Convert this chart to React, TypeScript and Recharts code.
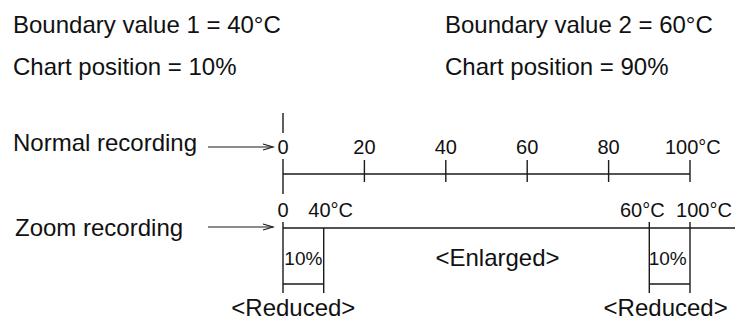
import React from 'react';
import { ComposedChart, XAxis, YAxis, Line, ReferenceLine, ReferenceDot } from 'recharts';

// ---- data ----
const normalTicks = [0, 20, 40, 60, 80, 100]; // °C on normal recording scale
const boundaryValues = [40, 60]; // °C
const chartPositions = [10, 90]; // % of chart width
const zoomTemps = [0, 40, 60, 100]; // °C shown on zoom recording
const zoomPositions = [0, 10, 90, 100]; // % where those temps land
const rowLabels = ['Normal recording', 'Zoom recording'];
const zoneLabels = ['<Reduced>', '<Enlarged>', '<Reduced>'];

// ---- layout (pixels / styling) ----
const W = 735;
const H = 321;
const FONT = '"Liberation Sans", Arial, Helvetica, sans-serif';
const INK = '#111';
const LINE = '#1a1a1a';
const SW = 1.4;

const Y = {
  normalLine: 174,
  normalTick: [160, 182],
  zeroTop: [113, 133],
  zeroBottom: [159, 194],
  normalLabel: 154,
  zoomLine: 228,
  zoomVertHigh: 222,
  zoomVertLow: 293,
  zoomBottom: 284,
  zoomLabel: 217,
  pctLabel: 265,
  enlarged: 266,
  reduced: 316,
};
const ZOOM_LINE_EXTENT = 111.1; // reaches the right edge of the picture

const chartData = normalTicks.map((t) => ({ t, y: Y.normalLine }));

const Txt = (text: string, size: number, anchor: string, dx = 0) => (p: any) => (
  <text
    x={p.cx + dx}
    y={p.cy}
    fontSize={size}
    fontFamily={FONT}
    fill={INK}
    textAnchor={anchor}
  >
    {text}
  </text>
);

const seg = (x1: number, y1: number, x2: number, y2: number, key: string, axis = 't') => (
  <ReferenceLine
    key={key}
    xAxisId={axis}
    yAxisId="y"
    segment={[{ x: x1, y: y1 }, { x: x2, y: y2 }]}
    stroke={LINE}
    strokeWidth={SW}
    ifOverflow="visible"
  />
);

const Arrow = ({ x1, x2, y }: { x1: number; x2: number; y: number }) => (
  <g stroke={LINE} strokeWidth={1.2} fill="none">
    <line x1={x1} y1={y} x2={x2} y2={y} />
    <polyline points={`${x2 - 10},${y - 3} ${x2},${y} ${x2 - 10},${y + 3}`} />
  </g>
);

export default function App() {
  const zoomLabelDx = [0, 7, -7, 14];
  return (
    <div style={{ position: 'absolute', left: 0, top: 0, width: W, height: H, background: '#fff' }}>
      <ComposedChart
        width={W}
        height={H}
        data={chartData}
        margin={{ top: 0, right: 45, bottom: 0, left: 283 }}
      >
        <XAxis xAxisId="t" dataKey="t" type="number" domain={[0, 100]} allowDataOverflow hide />
        <XAxis xAxisId="p" dataKey="t" type="number" domain={[0, 100]} allowDataOverflow hide />
        <YAxis yAxisId="y" type="number" domain={[0, H]} allowDataOverflow reversed hide />

        {/* normal recording baseline through the scale points */}
        <Line
          xAxisId="t"
          yAxisId="y"
          dataKey="y"
          stroke={LINE}
          strokeWidth={SW}
          dot={false}
          isAnimationActive={false}
        />

        {/* header text */}
        <text x={13} y={33} fontSize={24} fontFamily={FONT} fill={INK}>
          {`Boundary value 1 = ${boundaryValues[0]}°C`}
        </text>
        <text x={445} y={33} fontSize={24} fontFamily={FONT} fill={INK}>
          {`Boundary value 2 = ${boundaryValues[1]}°C`}
        </text>
        <text x={13} y={75} fontSize={24} fontFamily={FONT} fill={INK}>
          {`Chart position = ${chartPositions[0]}%`}
        </text>
        <text x={445} y={75} fontSize={24} fontFamily={FONT} fill={INK}>
          {`Chart position = ${chartPositions[1]}%`}
        </text>

        {/* row labels + arrows */}
        <text x={13} y={151} fontSize={24} fontFamily={FONT} fill={INK}>
          {rowLabels[0]}
        </text>
        <Arrow x1={208} x2={273} y={147} />
        <text x={15} y={236} fontSize={24} fontFamily={FONT} fill={INK}>
          {rowLabels[1]}
        </text>
        <Arrow x1={208} x2={273} y={227} />

        {/* normal recording scale */}
        {seg(normalTicks[0], Y.zeroTop[0], normalTicks[0], Y.zeroTop[1], 'z0t')}
        {seg(normalTicks[0], Y.zeroBottom[0], normalTicks[0], Y.zeroBottom[1], 'z0b')}
        {normalTicks.slice(1).map((t) => seg(t, Y.normalTick[0], t, Y.normalTick[1], `nt${t}`))}
        {normalTicks.map((t, i) => (
          <ReferenceDot
            key={`nlab${t}`}
            xAxisId="t"
            yAxisId="y"
            x={t}
            y={Y.normalLabel}
            ifOverflow="visible"
            shape={
              i === normalTicks.length - 1
                ? Txt(`${t}°C`, 20, 'start', -25)
                : Txt(`${t}`, 20, 'middle')
            }
          />
        ))}

        {/* zoom recording scale */}
        {seg(zoomPositions[0], Y.zoomLine, ZOOM_LINE_EXTENT, Y.zoomLine, 'zl', 'p')}
        {zoomPositions.map((p, i) =>
          seg(p, i === 1 ? Y.zoomLine : Y.zoomVertHigh, p, Y.zoomVertLow, `zv${p}`, 'p')
        )}
        {seg(zoomPositions[0], Y.zoomBottom, zoomPositions[1], Y.zoomBottom, 'zb1', 'p')}
        {seg(zoomPositions[2], Y.zoomBottom, zoomPositions[3], Y.zoomBottom, 'zb2', 'p')}
        {zoomPositions.map((p, i) => (
          <ReferenceDot
            key={`zlab${p}`}
            xAxisId="p"
            yAxisId="y"
            x={p}
            y={Y.zoomLabel}
            ifOverflow="visible"
            shape={Txt(i === 0 ? `${zoomTemps[i]}` : `${zoomTemps[i]}°C`, 20, 'middle', zoomLabelDx[i])}
          />
        ))}
        <ReferenceDot
          xAxisId="p"
          yAxisId="y"
          x={(zoomPositions[0] + zoomPositions[1]) / 2}
          y={Y.pctLabel}
          ifOverflow="visible"
          shape={Txt(`${chartPositions[0]}%`, 19, 'middle')}
        />
        <ReferenceDot
          xAxisId="p"
          yAxisId="y"
          x={(zoomPositions[2] + zoomPositions[3]) / 2}
          y={Y.pctLabel}
          ifOverflow="visible"
          shape={Txt(`${100 - chartPositions[1]}%`, 19, 'middle', -2)}
        />
        <ReferenceDot
          xAxisId="p"
          yAxisId="y"
          x={(zoomPositions[1] + zoomPositions[2]) / 2}
          y={Y.enlarged}
          ifOverflow="visible"
          shape={Txt(zoneLabels[1], 24, 'middle', 11)}
        />
        <ReferenceDot
          xAxisId="p"
          yAxisId="y"
          x={(zoomPositions[0] + zoomPositions[1]) / 2}
          y={Y.reduced}
          ifOverflow="visible"
          shape={Txt(zoneLabels[0], 24, 'middle', -10)}
        />
        <ReferenceDot
          xAxisId="p"
          yAxisId="y"
          x={(zoomPositions[2] + zoomPositions[3]) / 2}
          y={Y.reduced}
          ifOverflow="visible"
          shape={Txt(zoneLabels[2], 24, 'middle', -4)}
        />
      </ComposedChart>
    </div>
  );
}
